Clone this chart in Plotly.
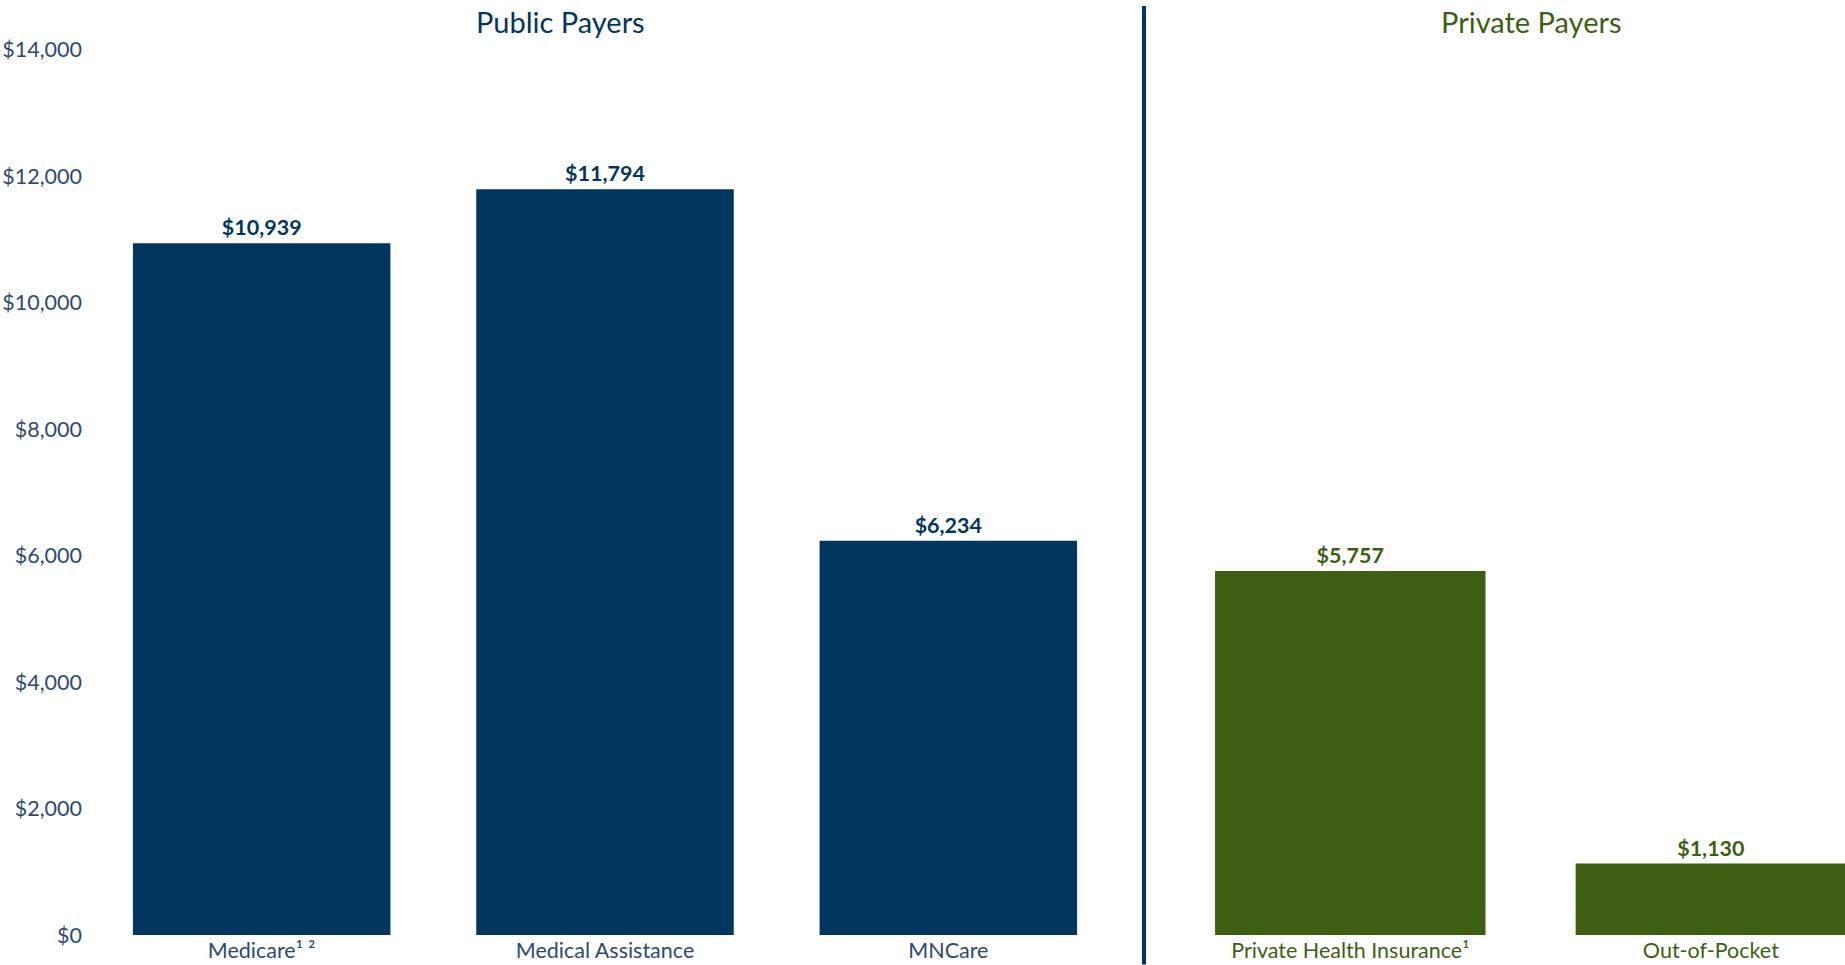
import plotly.graph_objects as go

public_categories = ["Medicare¹ ²", "Medical Assistance", "MNCare"]
public_values = [10939, 11794, 6234]
private_categories = ["Private Health Insurance¹", "Out-of-Pocket"]
private_values = [5757, 1130]
y_ticks = [0, 2000, 4000, 6000, 8000, 10000, 12000, 14000]
y_tick_labels = ["$0", "$2,000", "$4,000", "$6,000", "$8,000", "$10,000", "$12,000", "$14,000"]
header_public = "Public Payers"
header_private = "Private Payers"

NAVY = "#02365f"
GREEN = "#3e5f12"
TICK = "#2b4b70"
FONT = "Lato"

W, H = 1845, 965
ML, MR, MT, MB = 90, 0, 37, 29.5
pw = W - ML - MR
ph = H - MT - MB

def px_x(x):
    return (x - ML) / pw

def px_y(y):
    return (H - MB - y) / ph

fig = go.Figure()
fig.add_trace(go.Bar(
    x=public_categories, y=public_values, xaxis="x", yaxis="y",
    marker=dict(color=NAVY, line=dict(width=0)), width=0.75,
    texttemplate="<b>$%{y:,.0f}</b>", textposition="outside",
    textfont=dict(family=FONT, size=21.5, color=NAVY), cliponaxis=False,
    showlegend=False,
))
fig.add_trace(go.Bar(
    x=private_categories, y=private_values, xaxis="x2", yaxis="y2",
    marker=dict(color=GREEN, line=dict(width=0)), width=0.75,
    texttemplate="<b>$%{y:,.0f}</b>", textposition="outside",
    textfont=dict(family=FONT, size=21.5, color=GREEN), cliponaxis=False,
    showlegend=False,
))

yr = [0, 14200]
fig.update_layout(
    width=W, height=H,
    margin=dict(l=ML, r=MR, t=MT, b=MB),
    paper_bgcolor="white", plot_bgcolor="white",
    font=dict(family=FONT, size=21, color=TICK),
    xaxis=dict(domain=[0, px_x(1120)], range=[-0.5, 2.5], showgrid=False, zeroline=False,
               showline=False, ticks="", ticklabelstandoff=0, automargin=False,
               tickfont=dict(family=FONT, size=21.5, color=TICK)),
    xaxis2=dict(domain=[px_x(1170), 1.0], range=[-0.5, 1.372], anchor="y2", showgrid=False,
                zeroline=False, showline=False, ticks="", ticklabelstandoff=0, automargin=False,
                tickfont=dict(family=FONT, size=21.5, color=GREEN)),
    yaxis=dict(range=yr, tickvals=y_ticks, ticktext=y_tick_labels, showgrid=False,
               zeroline=False, showline=False, ticks="", ticklabelstandoff=7, automargin=False,
               tickfont=dict(family=FONT, size=21.5, color=TICK)),
    yaxis2=dict(range=yr, anchor="x2", showgrid=False, zeroline=False, showline=False,
                showticklabels=False, ticks="", automargin=False),
    shapes=[dict(type="line", xref="paper", yref="paper",
                 x0=px_x(1144), x1=px_x(1144), y0=px_y(965), y1=px_y(6),
                 line=dict(color=NAVY, width=4))],
    annotations=[
        dict(text=header_public, xref="paper", yref="paper", x=px_x(560), y=px_y(21),
             showarrow=False, xanchor="center", yanchor="middle",
             font=dict(family=FONT, size=29, color=NAVY)),
        dict(text=header_private, xref="paper", yref="paper", x=px_x(1531), y=px_y(21),
             showarrow=False, xanchor="center", yanchor="middle",
             font=dict(family=FONT, size=29, color=GREEN)),
    ],
)

fig.write_html("out.html", config={"displayModeBar": False},
               post_script="document.body.style.margin='0';document.body.style.overflow='hidden';")
